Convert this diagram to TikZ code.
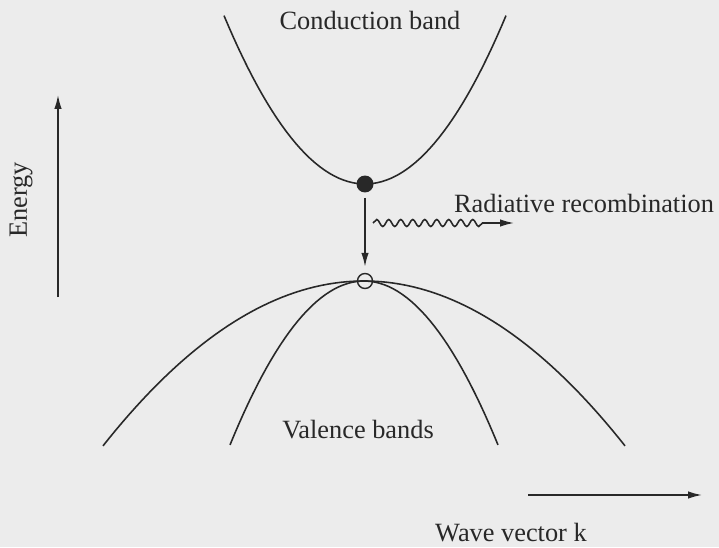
\documentclass[tikz,border=0pt]{standalone}
\usepackage{fontspec}
\setmainfont{Liberation Serif}
\usetikzlibrary{arrows.meta,decorations.pathmorphing}
\definecolor{paper}{RGB}{236,236,236}
\definecolor{ink}{RGB}{40,40,40}

\begin{document}
\begin{tikzpicture}[>={Latex[length=0.28cm,width=0.15cm]},x=0.02cm,y=-0.02cm,
  band/.style={ink,line width=0.9pt},
  lbl/.style={ink,font=\fontsize{15}{18}\selectfont,inner sep=0pt,anchor=base}]
  \fill[paper] (0,0) rectangle (719,547);
  \useasboundingbox (0,0) rectangle (719,547);
  % bands
  \draw[band,domain=224:506,samples=60] plot (\x,{184-84.7*((\x-365)/100)^2});
  \draw[band,domain=103:625,samples=80] plot (\x,{281+24.2*((\x-364)/100)^2});
  \draw[band,domain=230:498,samples=60] plot (\x,{281+91.3*((\x-364)/100)^2});
  % carriers
  \node[circle,fill=ink,minimum size=0.34cm,inner sep=0pt] (elec) at (365,184) {};
  \node[circle,draw=ink,line width=0.8pt,minimum size=0.30cm,inner sep=0pt] (hole) at (365,281) {};
  \draw[band,->,shorten <=0.1cm,shorten >=0.12cm] (elec) -- (hole);
  \coordinate (photon0) at (373,223);
  \coordinate (photon1) at (514,223);
  \draw[band,->,decorate,decoration={snake,amplitude=0.07cm,segment length=0.24cm,post length=0.6cm}] (photon0) -- (photon1);
  % axes
  \coordinate (e0) at (58,297);
  \coordinate (e1) at (58,95);
  \draw[band,->] (e0) -- (e1);
  \coordinate (k0) at (528,495);
  \coordinate (k1) at (702,495);
  \draw[band,->] (k0) -- (k1);
  % labels
  \node[lbl] (cblbl) at (370,30) {Conduction band};
  \node[lbl] (radlbl) at (584,212) {Radiative recombination};
  \node[lbl] (vblbl) at (358,438) {Valence bands};
  \node[lbl] (klbl) at (511,541) {Wave vector k};
  \node[lbl,rotate=90] (elbl) at (27,200) {Energy};
\end{tikzpicture}
\end{document}
